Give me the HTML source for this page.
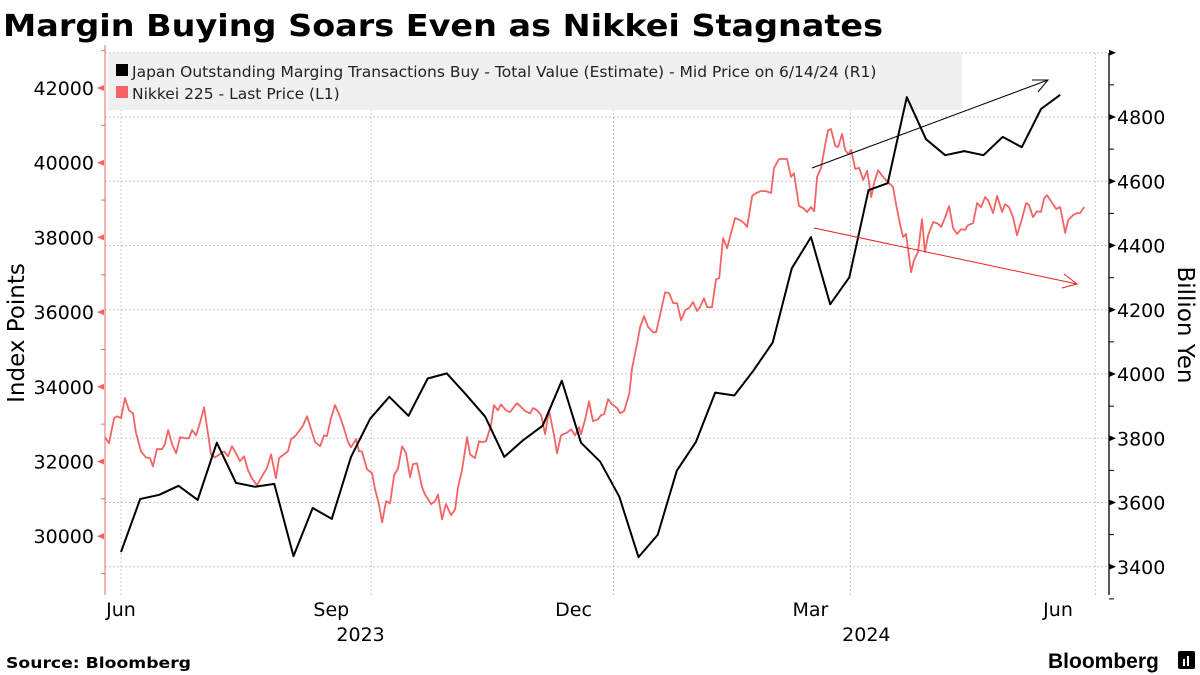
<!DOCTYPE html>
<html><head><meta charset="utf-8">
<style>
body{margin:0;background:#fff;font-family:"Liberation Sans",sans-serif;}
#wrap{position:relative;width:1200px;height:675px;overflow:hidden;}
svg text{font-family:"DejaVu Sans","Liberation Sans",sans-serif;}
</style></head>
<body>
<div id="wrap">
<svg id="chart" width="1200" height="675" viewBox="0 0 1200 675">
<text x="3" y="36" font-size="30" font-weight="bold" fill="#000" textLength="880" lengthAdjust="spacingAndGlyphs">Margin Buying Soars Even as Nikkei Stagnates</text>
<g id="grid"></g>
<rect x="108" y="53" width="854" height="57" fill="#f0f0f0"/>
<g><rect x="116" y="64" width="12" height="12" fill="#000"/><text x="132" y="77" font-size="15.5" fill="#222">Japan Outstanding Marging Transactions Buy - Total Value (Estimate) - Mid Price on 6/14/24 (R1)</text></g>
<g><rect x="116" y="86" width="12" height="12" fill="#f46464"/><text x="132" y="99" font-size="15.5" fill="#222">Nikkei 225 - Last Price (L1)</text></g>
<g id="axes"></g>
<g id="series"></g>
<g><line x1="812" y1="168" x2="1048" y2="80" stroke="#000" stroke-width="1"/><polyline points="1032,80 1048,80 1038,92" fill="none" stroke="#000" stroke-width="1"/></g>
<g><line x1="814" y1="228" x2="1077" y2="284" stroke="#e8202a" stroke-width="1"/><polyline points="1064,274 1077,284 1062,288" fill="none" stroke="#e8202a" stroke-width="1"/></g>
<text x="16" y="325" font-size="23" transform="rotate(-90 24 325)" text-anchor="middle">Index Points</text>
<text x="1178" y="325" font-size="23" transform="rotate(90 1178 325)" text-anchor="middle">Billion Yen</text>
<text x="6" y="668" font-size="15.5" font-weight="bold" textLength="185" lengthAdjust="spacingAndGlyphs">Source: Bloomberg</text>
<text x="1048" y="668" font-size="21" font-weight="bold" style="font-family:'Liberation Sans',sans-serif">Bloomberg</text>
<g><rect x="1178" y="651" width="17" height="18" rx="2" fill="#000"/><rect x="1183" y="659" width="2" height="7" fill="#fff"/><rect x="1187" y="656" width="2" height="10" fill="#fff"/></g>
</svg>
</div>
<script>
const leftTicks=[30000,32000,34000,36000,38000,40000,42000];
const rightTicks=[3400,3600,3800,4000,4200,4400,4600,4800];
const monthLabels=["Jun","Sep","Dec","Mar","Jun"];
const monthDays=[0,94,185,274,366];
const monthLabelDays=[0,-15,-15,-15,-14];
const yearLabels=["2023","2024"];
const yearDays=[94,274];
const yearLabelDays=[-4,6];
const blackStepDays=7.2;
const blackValues=[3446,3611,3624,3652,3608,3786,3661,3649,3658,3433,3583,3549,3742,3861,3929,3870,3986,4002,3936,3867,3742,3795,3839,3979,3786,3727,3618,3430,3499,3699,3789,3942,3933,4011,4098,4329,4426,4217,4301,4572,4594,4862,4731,4681,4694,4681,4738,4706,4825,4869];
const redDays=[-6,-4.5,-2.6,-1.5,0,1.5,3,4.5,5.6,7.5,9.4,10.9,12,13.5,15.4,16.5,17.7,19.2,20.7,22.2,24.4,25.5,26.7,28.2,29.7,31.2,32.3,33.8,35.3,37.6,38.7,40.2,41.7,43.2,44.7,46.2,47.7,49.2,51.1,53,54.8,56.4,58.2,59.4,61.2,62.7,63.9,65.7,67.3,68.4,69.9,71.4,72.9,74.8,76.3,77.4,78.9,80.4,81.9,83.4,85.3,86.4,88.3,89.4,90.5,92.4,94.3,95.4,96.9,98.1,99.6,101.1,102.6,104.1,105.6,107.1,108.6,109.7,111.2,113.1,114.2,116.5,118,119.1,120.6,122.1,124,125.5,126.6,128.1,130,131.1,133,134.5,135.6,137.1,139,140.1,141.6,142.8,144.6,146.1,147.3,148.8,150.7,151.8,153.7,154.8,156.3,157.8,159.3,160.8,162.7,163.8,165.3,167.6,169.1,170.6,172.1,172.8,174.3,175.8,177.3,179.2,180.3,181.5,183,184.5,186.4,187.5,189,190.9,192,193.9,195,196.5,198,199.9,201,202.9,204.4,205.9,207.4,208.9,210.4,211.9,213.4,214.9,216.4,217.5,219,220.2,222,223.5,224.7,226.2,227.7,229.2,230.7,232.6,234.1,235.2,237.1,238.6,240.4,242.3,244.2,245.3,247.2,250.2,251.7,252.8,254.7,256.2,257.7,259.2,260.4,261.5,263,264.5,265.6,266.7,268.3,269.4,270.9,272,273.2,274.3,275.8,277.3,278.8,280.3,281.8,282.9,284.4,286.3,288.5,290,291.2,292.7,293.8,294.9,296.8,297.9,299.4,300.9,302,303.2,305.1,306.6,308.1,309.6,311.1,312.6,314.1,315.6,317.1,318.2,320.1,321.6,323.1,324.6,325.7,327.6,329.1,331,332.1,333.6,335.1,336.6,338.5,340,341.1,342.6,344.1,345.6,346.8,347.9,349.8,351.3,352.8,354.7,355.8,357.7,359.2,360.3,361.8];
const redValues=[32650,32490,33160,33210,33160,33700,33370,33290,32780,32270,32110,32090,31870,32330,32330,32460,32840,32460,32220,32650,32620,32620,32840,32700,33050,33450,32920,32190,32110,32220,32270,32140,32410,32220,32010,32140,31770,31550,31360,31610,31820,32190,31550,32090,32190,32270,32600,32700,32860,32970,33210,32860,32520,32410,32700,32680,33160,33510,33270,32970,32520,32380,32600,32270,32270,31790,31690,31260,30860,30370,30940,30880,31630,31820,32410,32220,31580,31930,31950,31310,31120,30860,30940,31120,30450,30860,30560,30720,31310,31770,32650,32190,32090,32540,32520,32540,32970,33510,33370,33530,33370,33320,33430,33560,33430,33350,33290,33430,33370,33240,32730,33370,32700,32220,32700,32780,32860,32700,32920,32730,33110,33610,33080,33130,33240,33270,33670,33530,33430,33290,33350,33800,34500,35170,35600,35890,35600,35460,35460,36050,36530,36510,36240,36240,35780,36050,36110,36270,36030,36130,36370,36130,36130,36880,36910,37980,37710,38120,38520,38460,38380,38280,39110,39190,39240,39240,39190,39860,40100,40100,39620,39720,38840,38790,38680,38810,38700,39620,39860,40470,40870,40900,40450,40420,40770,40340,40230,40340,39830,39860,39540,39780,39080,39450,39800,39620,39450,39350,38870,38330,38010,38090,37070,37390,37610,38490,37610,38060,38410,38380,38280,38540,38840,38250,38090,38220,38200,38330,38380,38920,38810,39080,39000,38650,39110,38680,38890,38810,38540,38060,38510,38920,38870,38540,38700,38680,39050,39130,38920,38760,38810,38120,38460,38600,38650,38650,38810];

const NS="http://www.w3.org/2000/svg";
const X0=121,PXD=2.662;
function xS(d){return X0+d*PXD;}
function yL(v){return 88+(42000-v)*74.7/2000;}
function yR(v){return 117+(4800-v)*64.25/200;}
function mk(tag,attrs,parent){const e=document.createElementNS(NS,tag);for(const k in attrs)e.setAttribute(k,attrs[k]);parent.appendChild(e);return e;}
const grid=document.getElementById('grid'),axes=document.getElementById('axes'),series=document.getElementById('series');
const TOP=53,BOT=595;
for(let v=3400;v<=5000;v+=200){
  const l=mk('line',{x1:105,x2:1109,y1:yR(v),y2:yR(v),stroke:'#c8c8c8','stroke-dasharray':'2,2'},grid);
  
  
}
monthDays.forEach((d,i)=>{
  const l=mk('line',{x1:xS(d),x2:xS(d),y1:TOP,y2:BOT,stroke:'#c8c8c8','stroke-dasharray':'2,2'},grid);
  
  
  const t=mk('text',{x:xS(d+monthLabelDays[i]),y:616,'font-size':19,'text-anchor':'middle'},axes);
  t.textContent=monthLabels[i];
  
  
});
yearDays.forEach((d,i)=>{
  const t=mk('text',{x:xS(d+yearLabelDays[i]),y:641,'font-size':19,'text-anchor':'middle'},axes);
  t.textContent=yearLabels[i];
  
  
});
const la=mk('line',{x1:105,x2:105,y1:45,y2:BOT,stroke:'#f46464','stroke-width':1},axes);


leftTicks.forEach(v=>{
  const y=yL(v);
  const p=mk('polygon',{points:`97,${y} 104,${y-3} 104,${y+3}`,fill:'#f46464'},axes);
  
  
  const m=mk('line',{x1:101,x2:105,y1:yL(v-1000),y2:yL(v-1000),stroke:'#f46464'},axes);
  
  
  const t=mk('text',{x:94,y:y+7,'font-size':19,'text-anchor':'end'},axes);
  t.textContent=v;
  
  
});
{const m=mk('line',{x1:101,x2:105,y1:yL(43000),y2:yL(43000),stroke:'#f46464'},axes);

}
const ra=mk('line',{x1:1109,x2:1109,y1:53,y2:BOT,stroke:'#000','stroke-width':1.3},axes);


for(let v=3300;v<=5000;v+=100){
  const y=yR(v);
  if(v%200===0){
    const p=mk('polygon',{points:`1109,${y-3} 1116,${y} 1109,${y+3}`,fill:'#000'},axes);
    
    
  }else{
    const m=mk('line',{x1:1109,x2:1114,y1:y,y2:y,stroke:'#000'},axes);
    
    
  }
}
rightTicks.forEach(v=>{
  const t=mk('text',{x:1117,y:yR(v)+7,'font-size':19},axes);
  t.textContent=v;
  
  
});
const rp=redDays.map((d,i)=>xS(d).toFixed(1)+','+yL(redValues[i]).toFixed(1)).join(' ');
const rl=mk('polyline',{points:rp,fill:'none',stroke:'#f46464','stroke-width':1.8,'stroke-linejoin':'round'},series);


const bp=blackValues.map((v,i)=>xS(i*blackStepDays).toFixed(1)+','+yR(v).toFixed(1)).join(' ');
const bl=mk('polyline',{points:bp,fill:'none',stroke:'#000','stroke-width':2,'stroke-linejoin':'round'},series);


</script>
</body></html>
